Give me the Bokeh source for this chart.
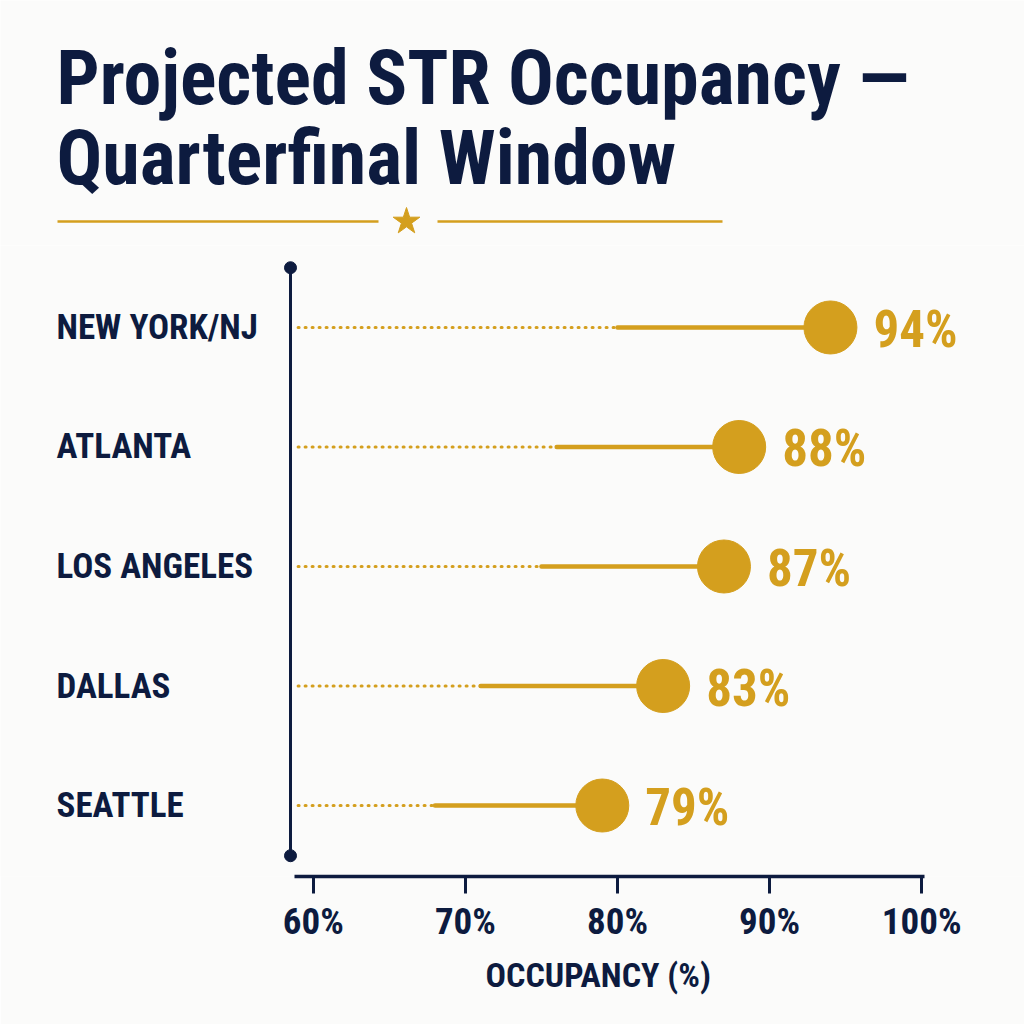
from bokeh.plotting import figure
from bokeh.layouts import column
from bokeh.models import Range1d, FixedTicker, Title
from bokeh.core.properties import value
from bokeh.embed import file_html
from bokeh.resources import INLINE

# ---- data ----
cities = ["NEW YORK/NJ", "ATLANTA", "LOS ANGELES", "DALLAS", "SEATTLE"]
occupancy = [94, 88, 87, 83, 79]
baseline = [80, 76, 75, 71, 68]
tick_values = [60, 70, 80, 90, 100]
tick_labels = ["60%", "70%", "80%", "90%", "100%"]
title_lines = ["Projected STR Occupancy \u2014", "Quarterfinal Window"]
x_label = "OCCUPANCY (%)"

# ---- style ----
NAVY = "#0D1B3F"
GOLD = "#D49F1E"
BG = "#FBFBFA"
FONT = "Roboto Condensed, Oswald, sans-serif"

# ---- header ----
h = figure(width=1024, height=245, x_range=Range1d(0, 1024), y_range=Range1d(245, 0),
           output_backend="svg", toolbar_location=None,
           x_axis_location=None, y_axis_location=None,
           min_border=0, outline_line_color=None,
           background_fill_color=BG, border_fill_color=BG)
h.grid.visible = False
h.text(x=[56, 56], y=[77, 157], text=title_lines, text_font=value(FONT),
       text_font_style="bold", text_font_size="76px", text_color=NAVY,
       text_baseline="alphabetic", text_align="left")
h.segment(x0=[57, 437], y0=[221, 221], x1=[378, 722], y1=[221, 221],
          line_color=GOLD, line_width=2.5)
h.scatter(x=[406], y=[221], marker="star", size=28, color=GOLD)

# ---- chart ----
ys = list(range(len(cities)))
px_per_unit = 15.21
x_start = 80 - 617 / px_per_unit
x_end = 80 + 407 / px_per_unit

p = figure(width=1024, height=779,
           x_range=Range1d(x_start, x_end), y_range=Range1d(4.594, -0.686),
           output_backend="svg", toolbar_location=None,
           y_axis_location=None, x_axis_location="below",
           min_border_left=0, min_border_right=0, min_border_top=0,
           min_border_bottom=148, outline_line_color=None,
           background_fill_color=BG, border_fill_color=BG)
p.grid.visible = False

axis_x = 80 - 327 / px_per_unit
label_x = 80 - 561 / px_per_unit

# decorative vertical axis
p.segment(x0=[axis_x], y0=[-0.5], x1=[axis_x], y1=[4.42], line_color=NAVY, line_width=3)
p.scatter(x=[axis_x, axis_x], y=[-0.5, 4.42], size=12, color=NAVY)

# dotted leaders
p.segment(x0=[axis_x + 0.5] * len(ys), y0=ys, x1=baseline, y1=ys,
          line_color=GOLD, line_width=3, line_dash="1 6", line_cap="round")
# solid stems
p.segment(x0=baseline, y0=ys, x1=occupancy, y1=ys, line_color=GOLD, line_width=4.5,
          line_cap="round")
p.scatter(x=occupancy, y=ys, size=53, color=GOLD)
p.text(x=occupancy, y=ys, text=[f"{v}%" for v in occupancy], x_offset=43, y_offset=2,
       text_font=value(FONT), text_font_style="bold", text_font_size="51px",
       text_color=GOLD, text_baseline="middle", text_align="left")
p.text(x=[label_x] * len(ys), y=ys, text=cities, text_font=value(FONT),
       text_font_style="bold", text_font_size="35px", text_color=NAVY,
       text_baseline="middle", text_align="left")

ax = p.xaxis[0]
ax.bounds = (80 - 323 / px_per_unit, 80 + 307 / px_per_unit)
ax.ticker = FixedTicker(ticks=tick_values)
ax.major_label_overrides = {float(t): l for t, l in zip(tick_values, tick_labels)}
ax.axis_line_color = NAVY
ax.axis_line_width = 3.5
ax.major_tick_line_color = NAVY
ax.major_tick_line_width = 3
ax.major_tick_out = 17
ax.major_tick_in = 0
ax.minor_tick_line_color = None
ax.major_label_standoff = 6
ax.major_label_text_font = FONT
ax.major_label_text_font_style = "bold"
ax.major_label_text_font_size = "37px"
ax.major_label_text_color = NAVY

# axis title, placed under the drawn axis span
p.add_layout(Title(text=x_label, align="left", offset=485, standoff=14,
                   text_font=FONT, text_font_style="bold", text_font_size="34px",
                   text_color=NAVY), "below")

layout = column(h, p, spacing=0)
open("out.html", "w").write(file_html(layout, INLINE))
